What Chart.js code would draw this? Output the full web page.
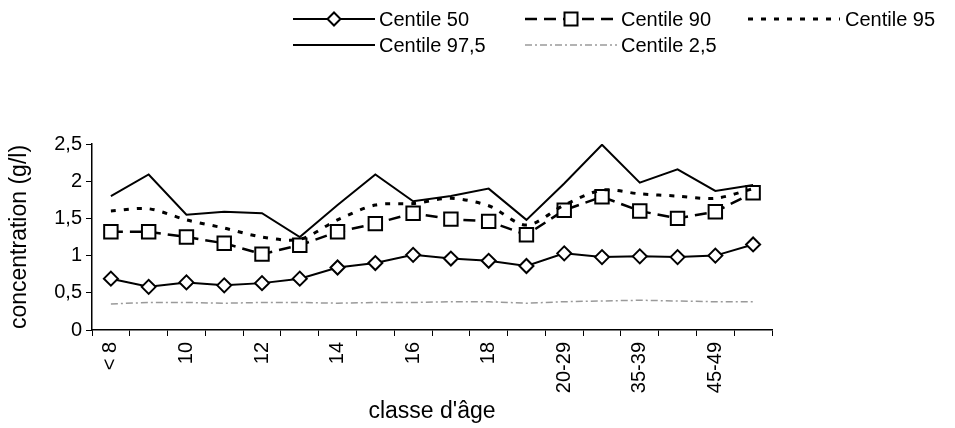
<!DOCTYPE html>
<html>
<head>
<meta charset="utf-8">
<script src="https://cdn.jsdelivr.net/npm/chart.js@4.4.1/dist/chart.umd.min.js"></script>
<style>
html,body{margin:0;padding:0;background:#fff;}
canvas{display:block;}
</style>
</head>
<body>
<canvas id="c" width="955" height="428"></canvas>
<script>
// ---- data ----
const categories = ['< 8','9','10','11','12','13','14','15','16','17','18','19','20-29','30-34','35-39','40-44','45-49','≥ 50'];
const centile50  = [0.69,0.58,0.64,0.60,0.63,0.69,0.84,0.90,1.01,0.96,0.93,0.86,1.03,0.98,0.99,0.98,1.00,1.15];
const centile90  = [1.32,1.32,1.25,1.165,1.02,1.14,1.32,1.43,1.57,1.49,1.46,1.28,1.61,1.79,1.60,1.50,1.59,1.845];
const centile95  = [1.60,1.63,1.48,1.37,1.25,1.22,1.48,1.68,1.70,1.77,1.67,1.41,1.68,1.88,1.83,1.80,1.77,1.90];
const centile975 = [1.80,2.09,1.55,1.59,1.57,1.25,1.68,2.09,1.73,1.80,1.90,1.48,1.97,2.49,1.98,2.16,1.87,1.95];
const centile25  = [0.35,0.37,0.37,0.36,0.37,0.37,0.36,0.37,0.37,0.38,0.38,0.36,0.38,0.39,0.40,0.39,0.38,0.38];
const seriesNames = ['Centile 50','Centile 90','Centile 95','Centile 97,5','Centile 2,5'];
const yTicks = [0, 0.5, 1, 1.5, 2, 2.5];

const FONT = 'Arial, "Liberation Sans", sans-serif';

const styles = [
  {color:'#000', width:2, dash:[], point:'rectRot', radius:7},
  {color:'#000', width:2.5, dash:[12,7], point:'rect', radius:9.5},
  {color:'#000', width:3, dash:[5,8], point:false, radius:0},
  {color:'#000', width:2, dash:[], point:false, radius:0},
  {color:'#9a9a9a', width:1.5, dash:[7,3,2,3], point:false, radius:0}
];
const seriesData = [centile50, centile90, centile95, centile975, centile25];

const datasets = seriesData.map((d,i)=>({
  label: seriesNames[i],
  data: d,
  borderColor: styles[i].color,
  borderWidth: styles[i].width,
  borderDash: styles[i].dash,
  pointStyle: styles[i].point || 'circle',
  pointRadius: styles[i].radius,
  pointBackgroundColor: '#fff',
  pointBorderColor: '#000',
  pointBorderWidth: 2,
  tension: i===2 ? 0.3 : 0,
  fill: false,
  order: 5 - i
}));

// custom legend (3 columns x 2 rows)
const legendPlugin = {
  id: 'customLegend',
  afterDraw(chart){
    const ctx = chart.ctx;
    const cols = [{x0:293,x1:375,tx:379},{x0:525,x1:617,tx:621},{x0:748,x1:840,tx:845}];
    const rows = [19,45];
    const place = [[0,0],[0,1],[0,2],[1,0],[1,1]];
    ctx.save();
    seriesNames.forEach((name,i)=>{
      const c = cols[place[i][1]], y = rows[place[i][0]];
      const s = styles[i];
      ctx.strokeStyle = s.color;
      ctx.lineWidth = s.width;
      ctx.setLineDash(s.dash);
      ctx.beginPath(); ctx.moveTo(c.x0,y); ctx.lineTo(c.x1,y); ctx.stroke();
      ctx.setLineDash([]);
      const mx = (c.x0+c.x1)/2;
      if (s.point==='rectRot'){
        const r = 6.5;
        ctx.fillStyle='#fff'; ctx.lineWidth=2; ctx.strokeStyle='#000';
        ctx.beginPath(); ctx.moveTo(mx-r,y); ctx.lineTo(mx,y-r); ctx.lineTo(mx+r,y); ctx.lineTo(mx,y+r); ctx.closePath();
        ctx.fill(); ctx.stroke();
      } else if (s.point==='rect'){
        const h = 6.5;
        ctx.fillStyle='#fff'; ctx.lineWidth=2; ctx.strokeStyle='#000';
        ctx.beginPath(); ctx.rect(mx-h,y-h,2*h,2*h); ctx.fill(); ctx.stroke();
      }
      ctx.fillStyle = '#000';
      ctx.font = '20px ' + FONT;
      ctx.textBaseline = 'middle';
      ctx.textAlign = 'left';
      ctx.fillText(name, c.tx, y+1);
    });
    ctx.restore();
  }
};

const bgPlugin = {
  id:'bg',
  beforeDraw(chart){ const c=chart.ctx; c.save(); c.fillStyle='#fff'; c.fillRect(0,0,chart.width,chart.height); c.restore(); }
};

new Chart(document.getElementById('c'), {
  type: 'line',
  data: { labels: categories, datasets },
  options: {
    responsive: false,
    animation: false,
    layout: { padding: { top: 144, right: 183, left: 0, bottom: 0 } },
    plugins: { legend: { display: false }, tooltip: { enabled: false } },
    scales: {
      x: {
        offset: true,
        grid: { display: true, drawOnChartArea: false, offset: true, color: '#000', lineWidth: 1, tickLength: 6, tickColor:'#000' },
        border: { display: true, color: '#000', width: 1.5 },
        ticks: {
          autoSkip: false, minRotation: 90, maxRotation: 90, padding: 6,
          color: '#000', font: { family: FONT, size: 20 },
          callback: function(v, i){ return i % 2 === 0 ? categories[i] : ''; }
        },
        title: { display: true, text: "classe d'âge", color: '#000', font: { family: FONT, size: 23 }, padding: { top: 0, bottom: 3 } },
        afterFit(scale){ scale.height = 98; }
      },
      y: {
        min: 0, max: 2.5,
        afterBuildTicks(scale){ scale.ticks = yTicks.map(v=>({value:v})); },
        grid: { display: true, drawOnChartArea: false, color: '#000', lineWidth: 1, tickLength: 6, tickColor:'#000' },
        border: { display: true, color: '#000', width: 1.5 },
        ticks: {
          padding: 4, color: '#000', font: { family: FONT, size: 20 },
          callback: v => String(v).replace('.', ',')
        },
        title: { display: true, text: 'concentration (g/l)', color: '#000', font: { family: FONT, size: 23 }, padding: { top: 6, bottom: 0 } },
        afterFit(scale){ scale.width = 92; }
      }
    }
  },
  plugins: [bgPlugin, legendPlugin]
});
</script>
</body>
</html>
